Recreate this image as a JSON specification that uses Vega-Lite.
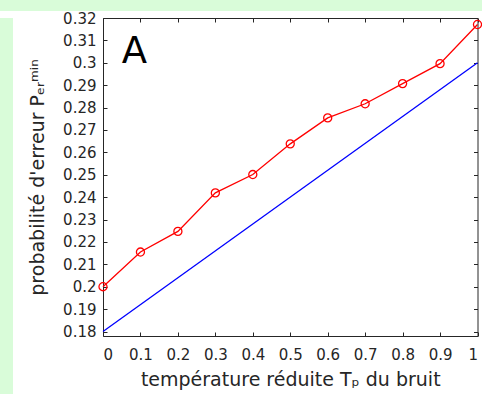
{
  "$schema": "https://vega.github.io/schema/vega-lite/v6.json",
  "background": "white",
  "padding": 0,
  "spacing": 0,
  "config": {
    "view": {"stroke": null},
    "axis": {
      "grid": false,
      "labelFont": "DejaVu Sans",
      "labelFontSize": 15,
      "labelColor": "#262626",
      "titleFont": "DejaVu Sans",
      "titleFontSize": 19,
      "titleFontWeight": "normal",
      "titleColor": "#262626",
      "tickColor": "#262626",
      "domainColor": "#262626",
      "tickSize": -4,
      "tickWidth": 1,
      "domainWidth": 1
    }
  },
  "datasets": {
    "red": [
      {"t": 0.0, "p": 0.2},
      {"t": 0.1, "p": 0.2155},
      {"t": 0.2, "p": 0.2247},
      {"t": 0.3, "p": 0.2419},
      {"t": 0.4, "p": 0.2501},
      {"t": 0.5, "p": 0.2638},
      {"t": 0.6, "p": 0.2754},
      {"t": 0.7, "p": 0.2817},
      {"t": 0.8, "p": 0.2907},
      {"t": 0.9, "p": 0.2996},
      {"t": 1.0, "p": 0.3171}
    ],
    "blue": [
      {"t": 0.0, "p": 0.18},
      {"t": 1.0, "p": 0.3}
    ],
    "lab": [
      {"t": 0.084, "p": 0.2997, "label": "A"}
    ]
  },
  "vconcat": [
    {
      "width": 482,
      "height": 11,
      "view": {"fill": "#d9fcd9", "stroke": null},
      "data": {"values": [{}]},
      "mark": {"type": "rect", "color": "#d9fcd9"},
      "encoding": {}
    },
    {
      "spacing": 15,
      "hconcat": [
        {
          "width": 13,
          "height": 383,
          "view": {"fill": "#d9fcd9", "stroke": null},
          "data": {"values": [{}]},
          "mark": {"type": "rect", "color": "#d9fcd9"},
          "encoding": {}
        },
        {
          "width": 374.5,
          "height": 318,
          "resolve": {"axis": {"x": "independent", "y": "independent"}},
          "layer": [
            {
              "data": {"name": "blue"},
              "mark": {"type": "line", "color": "#0000ff", "strokeWidth": 1.3, "clip": false},
              "encoding": {
                "x": {
                  "field": "t", "type": "quantitative",
                  "scale": {"domain": [0, 1], "nice": false, "zero": false},
                  "axis": {
                    "orient": "bottom",
                    "values": [0, 0.1, 0.2, 0.3, 0.4, 0.5, 0.6, 0.7, 0.8, 0.9, 1],
                    "format": "~g",
                    "title": "température réduite Tₚ du bruit",
                    "labelPadding": 15,
                    "titlePadding": 8
                  }
                },
                "y": {
                  "field": "p", "type": "quantitative",
                  "scale": {"domain": [0.178, 0.32], "nice": false, "zero": false},
                  "axis": {
                    "orient": "left",
                    "values": [0.18, 0.19, 0.2, 0.21, 0.22, 0.23, 0.24, 0.25, 0.26, 0.27, 0.28, 0.29, 0.3, 0.31, 0.32],
                    "format": "~g",
                    "title": "probabilité d'erreur Pₑᵣᵐⁱⁿ",
                    "labelPadding": 11,
                    "titlePadding": 15
                  }
                }
              }
            },
            {
              "data": {"name": "red"},
              "mark": {
                "type": "line", "color": "#ff0000", "strokeWidth": 1.3, "clip": false,
                "point": {"filled": false, "size": 65, "strokeWidth": 1.3, "color": "#ff0000"}
              },
              "encoding": {
                "x": {"field": "t", "type": "quantitative", "axis": null},
                "y": {"field": "p", "type": "quantitative", "axis": null}
              }
            },
            {
              "data": {"name": "lab"},
              "mark": {"type": "text", "font": "DejaVu Sans", "fontSize": 37, "color": "black", "align": "center", "baseline": "alphabetic"},
              "encoding": {
                "text": {"field": "label"},
                "x": {
                  "field": "t", "type": "quantitative",
                  "axis": {
                    "orient": "top", "labels": false, "title": null,
                    "values": [0, 0.1, 0.2, 0.3, 0.4, 0.5, 0.6, 0.7, 0.8, 0.9, 1]
                  }
                },
                "y": {
                  "field": "p", "type": "quantitative",
                  "axis": {
                    "orient": "right", "labels": false, "title": null,
                    "values": [0.18, 0.19, 0.2, 0.21, 0.22, 0.23, 0.24, 0.25, 0.26, 0.27, 0.28, 0.29, 0.3, 0.31, 0.32]
                  }
                }
              }
            }
          ]
        }
      ]
    }
  ]
}
